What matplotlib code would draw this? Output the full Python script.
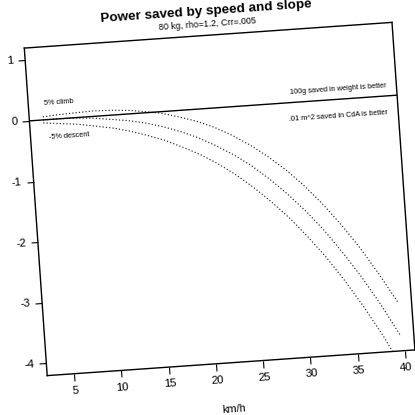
import matplotlib
matplotlib.use("Agg")
import numpy as np
import matplotlib.pyplot as plt
from matplotlib.transforms import Affine2D
import mpl_toolkits.axisartist.floating_axes as floating_axes
from mpl_toolkits.axisartist.grid_finder import FixedLocator, DictFormatter

plt.rcParams['font.family'] = ['Liberation Sans', 'DejaVu Sans']

# ---------------- data ----------------
speed_kmh = [3.6, 5.4, 7.2, 9.0, 10.8, 12.6, 14.4, 16.2, 18.0, 19.8, 21.6,
             23.4, 25.2, 27.0, 28.8, 30.6, 32.4, 34.2, 36.0, 37.8, 39.6]
climb_5 = [0.05, 0.07, 0.08, 0.09, 0.08, 0.06, 0.02, -0.03, -0.11, -0.20, -0.32,
           -0.47, -0.65, -0.86, -1.10, -1.38, -1.70, -2.06, -2.46, -2.91, -3.40]
flat_0 = [0.00, 0.00, -0.01, -0.03, -0.07, -0.11, -0.17, -0.25, -0.35, -0.47, -0.62,
          -0.79, -0.99, -1.23, -1.50, -1.80, -2.14, -2.53, -2.95, -3.42, -3.94]
descent_5 = [-0.05, -0.08, -0.11, -0.16, -0.21, -0.28, -0.37, -0.47, -0.60, -0.74, -0.91,
             -1.11, -1.34, -1.60, -1.89, -2.22, -2.58, -2.99, -3.44, -3.93, -4.48]
x_ticks = [5, 10, 15, 20, 25, 30, 35, 40]
y_ticks = [-4, -3, -2, -1, 0, 1]
x_lim = (2.16, 41.04)
y_lim = (-4.2, 1.2)

title = "Power saved by speed and slope"
subtitle = "80 kg, rho=1.2, Crr=.005"
xlabel = "km/h"

# ---------------- layout ----------------
W = H = 415
DPI = 100
THETA = 4.0            # whole chart is tilted
SX, SY = 9.48, 60.8    # pixels per data unit
CX, CY = 219.6, 216.0  # plot box centre in figure pixels

fig = plt.figure(figsize=(W / DPI, H / DPI), dpi=DPI)
fig.patch.set_facecolor("white")

tr = Affine2D().scale(SX, SY).rotate_deg(THETA)
grid_helper = floating_axes.GridHelperCurveLinear(
    tr, extremes=(x_lim[0], x_lim[1], y_lim[0], y_lim[1]),
    grid_locator1=FixedLocator(x_ticks),
    grid_locator2=FixedLocator(y_ticks),
    tick_formatter1=DictFormatter({v: str(v) for v in x_ticks}),
    tick_formatter2=DictFormatter({v: str(v) for v in y_ticks}))

corners = tr.transform([[x_lim[0], y_lim[0]], [x_lim[1], y_lim[0]],
                        [x_lim[1], y_lim[1]], [x_lim[0], y_lim[1]]])
bw = np.ptp(corners[:, 0]) * 1.02
bh = np.ptp(corners[:, 1]) * 1.02
ax = fig.add_axes([(CX - bw / 2) / W, (CY - bh / 2) / H, bw / W, bh / H],
                  axes_class=floating_axes.FloatingAxes, grid_helper=grid_helper)

for side in ["left", "bottom"]:
    a = ax.axis[side]
    a.major_ticks.set_tick_out(True)
    a.major_ticks.set_ticksize(5)
    a.major_ticklabels.set_fontsize(8.2)
    a.line.set_linewidth(1.0)
for side in ["top", "right"]:
    ax.axis[side].toggle(ticks=False, ticklabels=False)
    ax.axis[side].line.set_linewidth(1.0)

aux = ax.get_aux_axes(tr)
aux.patch = ax.patch
ax.patch.zorder = 0.9

dot = (0, (1, 1.8))
for series in (climb_5, flat_0, descent_5):
    aux.plot(speed_kmh, series, color="#222222", lw=0.85, ls=dot)
aux.plot(x_lim, [0, 0], color="black", lw=1.0)

tkw = dict(fontsize=5.3, rotation=THETA, rotation_mode="anchor", va="center")
aux.text(3.8, 0.27, "5% climb", ha="left", **tkw)
aux.text(4.1, -0.30, "-5% descent", ha="left", **tkw)
aux.text(40.0, 0.17, "100g saved in weight is better", ha="right", **tkw)
aux.text(39.9, -0.27, ".01 m^2 saved in CdA is better", ha="right", **tkw)

c, s = np.cos(np.radians(THETA)), np.sin(np.radians(THETA))
def box_to_fig(u, v):
    return (CX + u * c - v * s) / W, (CY + u * s + v * c) / H

rkw = dict(rotation=THETA, rotation_mode="anchor", ha="center", va="center")
fig.text(*box_to_fig(0, 187.5), title, fontsize=9.7, fontweight="bold", **rkw)
fig.text(*box_to_fig(0, 175.0), subtitle, fontsize=6.4, **rkw)
fig.text(*box_to_fig(0, -210.5), xlabel, fontsize=7.9, **rkw)

fig.savefig("out.png", dpi=DPI, facecolor="white")
